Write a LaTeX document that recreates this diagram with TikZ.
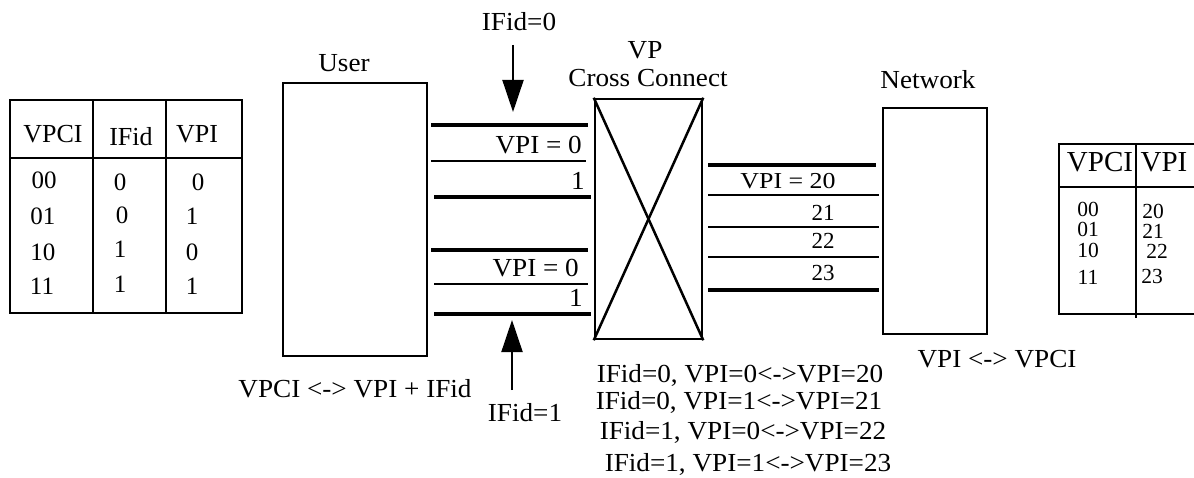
\documentclass[tikz,border=0pt]{standalone}
\usepackage{fontspec}
\usepackage{graphicx}
\setmainfont{Liberation Serif}
\newfontfamily\widefont{Liberation Serif}[FakeStretch=1.045]
\usetikzlibrary{arrows.meta}
\tikzset{
  boxst/.style={draw, line width=2.5pt},
  thickln/.style={line width=4.5pt},
  thinln/.style={line width=1.6pt},
  lbl/.style={inner sep=0pt, anchor=base, font=\widefont\fontsize{26}{28}\selectfont},
  lblr/.style={inner sep=0pt, anchor=base east, font=\widefont\fontsize{26}{28}\selectfont},
  sml/.style={inner sep=0pt, anchor=base, font=\fontsize{23}{25}\selectfont},
  rdig/.style={inner sep=0pt, anchor=base, font=\fontsize{21.5}{23}\selectfont},
  tbl/.style={inner sep=0pt, anchor=base, font=\fontsize{25}{27}\selectfont},
  arr/.style={line width=2pt, -{Triangle[length=32pt,width=21pt]}},
}
\begin{document}
\begin{tikzpicture}[x=1pt,y=-1pt]
\useasboundingbox (0,0) rectangle (1194,478);

% left table
\draw[boxst] (10,100) rectangle (242,313);
\draw[boxst] (93,100) -- (93,313);
\draw[boxst] (166,100) -- (166,313);
\draw[boxst] (10,158) -- (242,158);
\node[tbl, font=\fontsize{26}{28}\selectfont] (lh1) at (53,143) {VPCI};
\node[tbl, font=\fontsize{26}{28}\selectfont] (lh2) at (131,146) {IFid};
\node[tbl, font=\fontsize{26}{28}\selectfont] (lh3) at (197,143) {VPI};
\node[tbl] (l00) at (44,189) {00};
\node[tbl] (l01) at (43,225) {01};
\node[tbl] (l10) at (43,261) {10};
\node[tbl] (l11) at (42,295) {11};
\node[tbl] (li1) at (120,191) {0};
\node[tbl] (li2) at (122,224) {0};
\node[tbl] (li3) at (120,258) {1};
\node[tbl] (li4) at (120,293) {1};
\node[tbl] (lv1) at (198,191) {0};
\node[tbl] (lv2) at (192,225) {1};
\node[tbl] (lv3) at (192,261) {0};
\node[tbl] (lv4) at (192,295) {1};

% user box
\node[boxst, minimum width=144pt, minimum height=273pt, inner sep=0pt] (user) at (355,219.5) {};
\node[lbl] (userl) at (344,72) {User};
\node[lbl] (uvl) at (355,397) {VPCI <-> VPI + IFid};

% user-side lines
\coordinate (a1) at (431,125); \coordinate (b1) at (588,125);
\coordinate (a2) at (431,161); \coordinate (b2) at (586,161);
\coordinate (a3) at (434,197); \coordinate (b3) at (591,197);
\coordinate (a4) at (431,250); \coordinate (b4) at (588,250);
\coordinate (a5) at (434,284); \coordinate (b5) at (588,284);
\coordinate (a6) at (434,314); \coordinate (b6) at (591,314);
\draw[thickln] (a1) -- (b1);
\draw[thinln] (a2) -- (b2);
\draw[thickln] (a3) -- (b3);
\draw[thickln] (a4) -- (b4);
\draw[thinln] (a5) -- (b5);
\draw[thickln] (a6) -- (b6);
\node[lblr] (v0a) at (582,154) {VPI = 0};
\node[lblr] (v1a) at (585,190) {1};
\node[lblr] (v0b) at (579,277) {VPI = 0};
\node[lblr] (v1b) at (583,307) {1};

% IFid arrows
\node[lbl] (if0) at (519,31) {IFid=0};
\coordinate (t0) at (513,45); \coordinate (t1) at (513,112);
\draw[arr] (t0) -- (t1);
\node[lbl] (if1) at (525,421) {IFid=1};
\coordinate (u0) at (512,390); \coordinate (u1) at (512,320);
\draw[arr] (u0) -- (u1);

% cross connect
\node[boxst, minimum width=107pt, minimum height=240pt, inner sep=0pt] (cc) at (648.5,219) {};
\draw[line width=2.5pt] (cc.north west) -- (cc.south east);
\draw[line width=2.5pt] (cc.north east) -- (cc.south west);
\node[lbl] (vpl) at (645,59) {VP};
\node[lbl] (ccl) at (648,87) {Cross Connect};
\node[lbl] (m1) at (740,382) {IFid=0, VPI=0<->VPI=20};
\node[lbl] (m2) at (739,409) {IFid=0, VPI=1<->VPI=21};
\node[lbl] (m3) at (743,439) {IFid=1, VPI=0<->VPI=22};
\node[lbl] (m4) at (748,471) {IFid=1, VPI=1<->VPI=23};

% network-side lines
\coordinate (c1) at (708,165); \coordinate (d1) at (876,165);
\coordinate (c2) at (708,195); \coordinate (d2) at (879,195);
\coordinate (c3) at (708,227); \coordinate (d3) at (879,227);
\coordinate (c4) at (708,257); \coordinate (d4) at (879,257);
\coordinate (c5) at (708,290); \coordinate (d5) at (879,290);
\draw[thickln] (c1) -- (d1);
\draw[thinln] (c2) -- (d2);
\draw[thinln] (c3) -- (d3);
\draw[thinln] (c4) -- (d4);
\draw[thickln] (c5) -- (d5);
\node[inner sep=0pt, anchor=base, font=\fontsize{24}{26}\selectfont] (n20) at (788,189) {\scalebox{1.08}[0.95]{VPI = 20}};
\node[sml] (n21) at (823,221) {21};
\node[sml] (n22) at (823,249) {22};
\node[sml] (n23) at (823,281) {23};

% network box
\node[boxst, minimum width=104pt, minimum height=226pt, inner sep=0pt] (net) at (935,221) {};
\node[lbl] (netl) at (928,89) {Network};
\node[lbl] (nvl) at (997,367) {VPI <-> VPCI};

% right table
\draw[boxst] (1200,144) -- (1059,144) -- (1059,314) -- (1200,314);
\draw[boxst] (1059,187) -- (1200,187);
\draw[boxst] (1136,144) -- (1136,318);
\node[inner sep=0pt, anchor=base, font=\fontsize{29}{31}\selectfont] (rh1) at (1100,172) {VPCI};
\node[inner sep=0pt, anchor=base, font=\fontsize{29}{31}\selectfont] (rh2) at (1164,172) {VPI};
\node[rdig] (r00) at (1088,217) {00};
\node[rdig] (r01) at (1088,237) {01};
\node[rdig] (r10) at (1088,258) {10};
\node[rdig] (r11) at (1088,285) {11};
\node[rdig] (r20) at (1153,219) {20};
\node[rdig] (r21) at (1153,239) {21};
\node[rdig] (r22) at (1157,259) {22};
\node[rdig] (r23) at (1152,284) {23};
\end{tikzpicture}
\end{document}
